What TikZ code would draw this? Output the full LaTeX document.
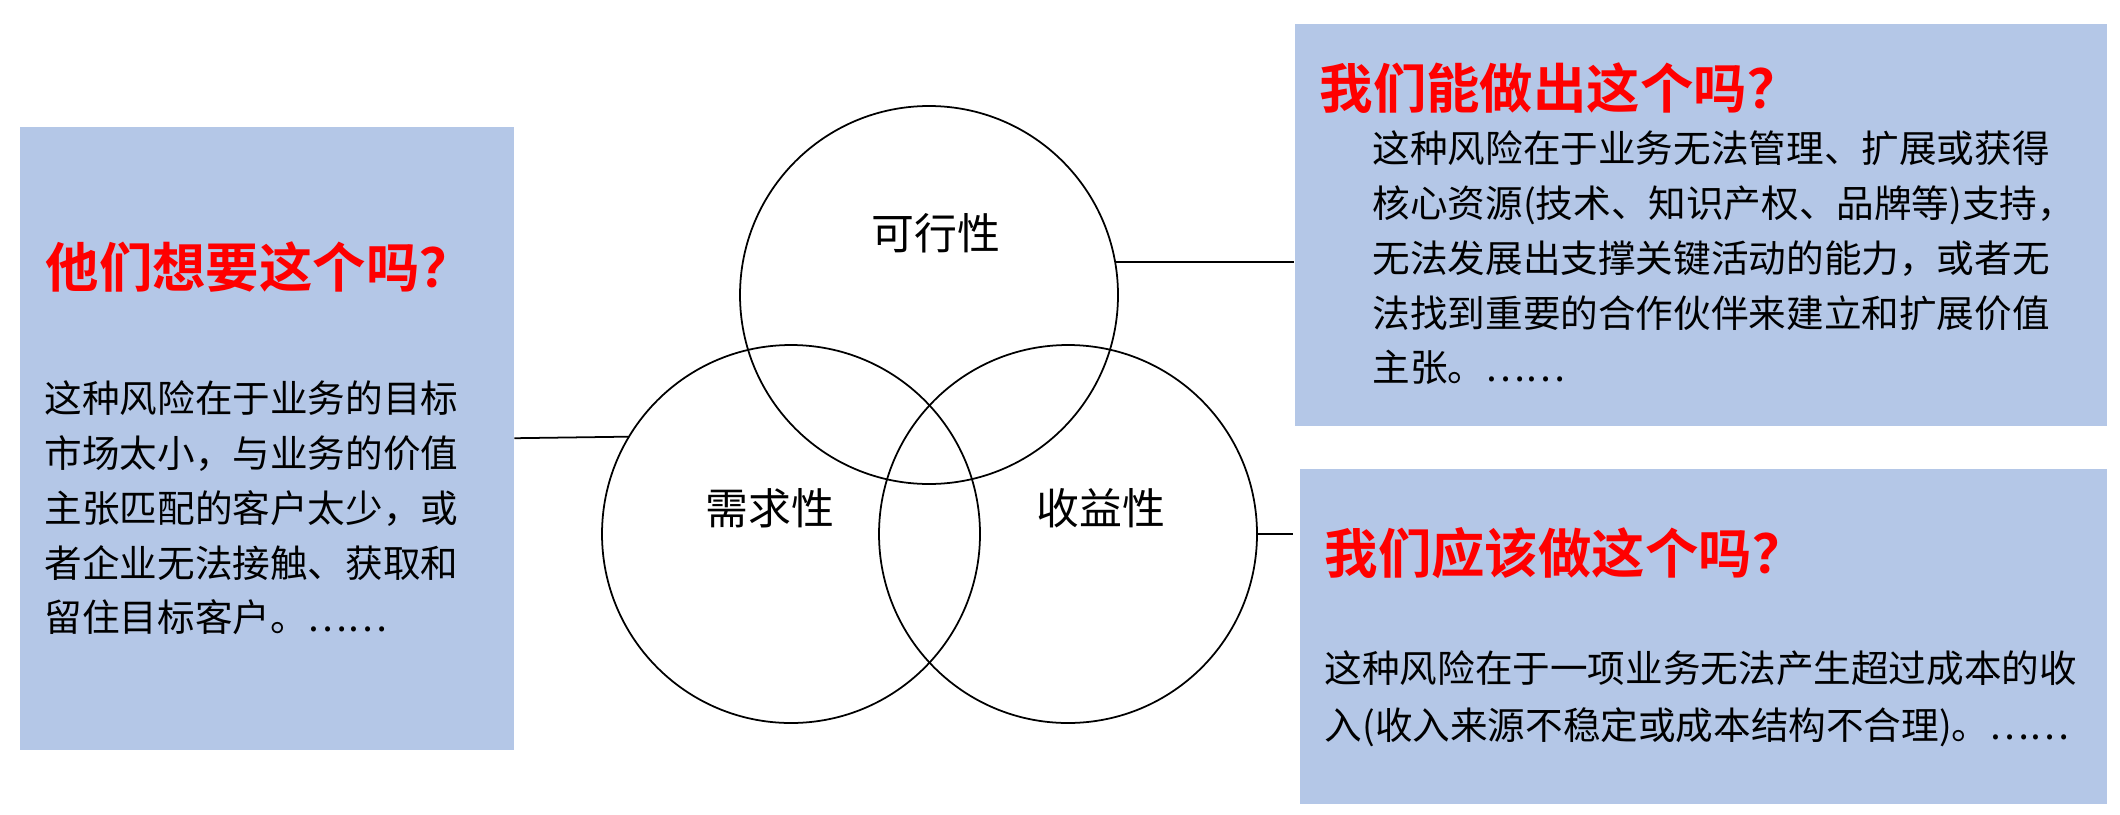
\documentclass[tikz,border=0pt]{standalone}
\usepackage{fontspec}
\setmainfont{Noto Sans CJK SC}[BoldFont={Noto Sans CJK SC Bold}]
\definecolor{boxblue}{RGB}{180,199,231}
\definecolor{askred}{RGB}{255,0,0}
\begin{document}
\begin{tikzpicture}[
    riskbox/.style={rectangle, fill=boxblue, inner sep=0pt, anchor=north west},
    ring/.style={circle, draw, line width=0.5pt, minimum size=3.78cm, inner sep=0pt, outer sep=0pt},
    ringlabel/.style={font=\fontsize{12.2pt}{14pt}\selectfont},
    question/.style={anchor=west, inner sep=0pt, text=askred, font=\fontsize{15.2pt}{18pt}\selectfont\bfseries},
    answer/.style={anchor=west, inner sep=0pt, align=left, font=\fontsize{10.7pt}{15.6pt}\selectfont},
    link/.style={line width=0.5pt}
]

    \useasboundingbox (0,0) rectangle (21.2,-8.14);

    % Boxes
    \node[riskbox, minimum width=4.94cm, minimum height=6.23cm] (want) at (0.19,-1.26) {};
    \node[riskbox, minimum width=8.12cm, minimum height=4.02cm] (can) at (12.94,-0.23) {};
    \node[riskbox, minimum width=8.07cm, minimum height=3.35cm] (should) at (12.99,-4.68) {};

    % Circles
    \node[ring] (feas) at (9.29,-2.95) {};
    \node[ring] (demand) at (7.91,-5.34) {};
    \node[ring] (profit) at (10.68,-5.34) {};

    \node[ringlabel] (feaslabel) at (9.36,-2.33) {可行性};
    \node[ringlabel] (demandlabel) at (7.70,-5.08) {需求性};
    \node[ringlabel] (profitlabel) at (11.01,-5.08) {收益性};

    % Connectors
    \draw[link] (want.east) -- (demand.149);
    \draw[link] (feas.10) -- (feas.10 -| can.west);
    \draw[link, shorten >=0.6mm] (profit.east) -- (profit.east -| should.west);

    % Left box text
    \node[question] (wantq) at (0.45,-2.67) {他们想要这个吗？};
    \node[answer] (wanta) at (0.44,-5.08) {这种风险在于业务的目标\\
        市场太小，与业务的价值\\
        主张匹配的客户太少，或\\
        者企业无法接触、获取和\\
        留住目标客户。……};

    % Top right box text
    \node[question] (canq) at (13.19,-0.88) {我们能做出这个吗？};
    \node[answer] (cana) at (13.72,-2.58) {这种风险在于业务无法管理、扩展或获得\\
        核心资源(技术、知识产权、品牌等)支持，\\
        无法发展出支撑关键活动的能力，或者无\\
        法找到重要的合作伙伴来建立和扩展价值\\
        主张。……};

    % Bottom right box text
    \node[question] (shouldq) at (13.24,-5.53) {我们应该做这个吗？};
    \node[answer, font=\fontsize{10.7pt}{16.2pt}\selectfont] (shoulda) at (13.24,-6.99) {这种风险在于一项业务无法产生超过成本的收\\
        入(收入来源不稳定或成本结构不合理)。……};

\end{tikzpicture}
\end{document}
